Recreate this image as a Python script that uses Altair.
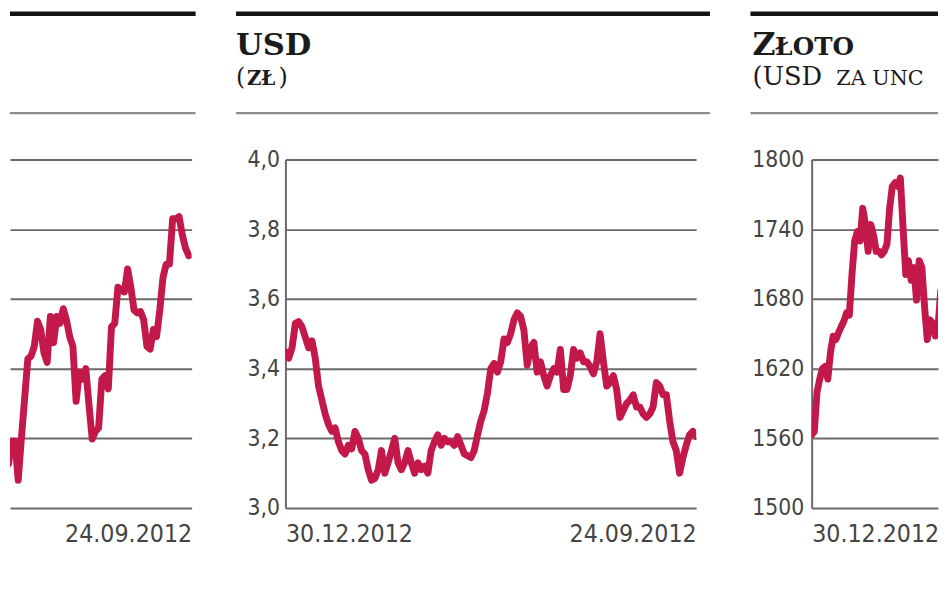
import altair as alt
import pandas as pd

# ---------------- data ----------------
# Left panel (cropped, only its right part is visible): y axis hidden
left_values = [4.035, 4.087, 4.063, 4.096, 4.096, 4.04, 4.10, 4.157, 4.214, 4.218,
               4.232, 4.268, 4.256, 4.223, 4.209, 4.275, 4.237, 4.275, 4.265, 4.286,
               4.27, 4.246, 4.232, 4.153, 4.195, 4.185, 4.20, 4.148, 4.099, 4.11,
               4.115, 4.185, 4.19, 4.171, 4.26, 4.265, 4.317, 4.312, 4.31, 4.343,
               4.317, 4.284, 4.28, 4.282, 4.27, 4.232, 4.228, 4.256, 4.246, 4.284,
               4.331, 4.35, 4.35, 4.415, 4.415, 4.418, 4.392, 4.373, 4.362]
left_ticks = [4.0, 4.1, 4.2, 4.3, 4.4, 4.5]
left_view = [2.45, 58.9]          # visible part of the time index

# Middle panel: USD (zł)
usd_values = [3.448, 3.43, 3.46, 3.53, 3.535, 3.52, 3.49, 3.46, 3.48, 3.43,
              3.35, 3.31, 3.27, 3.24, 3.22, 3.23, 3.19, 3.165, 3.155, 3.18,
              3.17, 3.22, 3.20, 3.165, 3.155, 3.11, 3.08, 3.085, 3.11, 3.165,
              3.10, 3.13, 3.165, 3.20, 3.13, 3.11, 3.13, 3.165, 3.13, 3.10,
              3.13, 3.11, 3.12, 3.10, 3.165, 3.19, 3.21, 3.18, 3.20, 3.19,
              3.19, 3.18, 3.205, 3.18, 3.155, 3.15, 3.145, 3.165, 3.21, 3.25,
              3.28, 3.33, 3.40, 3.415, 3.39, 3.42, 3.485, 3.475, 3.50, 3.54,
              3.56, 3.55, 3.51, 3.41, 3.46, 3.475, 3.39, 3.42, 3.38, 3.35,
              3.38, 3.40, 3.39, 3.455, 3.34, 3.34, 3.38, 3.455, 3.43, 3.445,
              3.42, 3.42, 3.405, 3.385, 3.42, 3.50, 3.42, 3.35, 3.36, 3.38,
              3.34, 3.26, 3.28, 3.30, 3.31, 3.325, 3.29, 3.29, 3.27, 3.26,
              3.27, 3.29, 3.36, 3.35, 3.325, 3.325, 3.25, 3.19, 3.165, 3.10,
              3.145, 3.18, 3.21, 3.22, 3.205]
usd_ticks = [3.0, 3.2, 3.4, 3.6, 3.8, 4.0]

# Right panel: Złoto (USD za uncję), only its left part is visible
gold_values = [1563, 1566, 1600, 1611, 1620, 1622, 1611, 1634, 1648, 1645,
               1651, 1656, 1661, 1668, 1666, 1701, 1730, 1738, 1730, 1758,
               1744, 1721, 1744, 1735, 1721, 1721, 1718, 1721, 1727, 1758,
               1777, 1780, 1777, 1784, 1741, 1701, 1713, 1696, 1707, 1679,
               1713, 1707, 1673, 1645, 1662, 1659, 1648, 1656, 1687, 1690, 1668]
gold_ticks = [1500, 1560, 1620, 1680, 1740, 1800]
gold_view = [0, 47.0]             # visible part of the time index

date_labels = ["30.12.2012", "24.09.2012"]

# ---------------- style ----------------
LINE_COLOR = "#C2184A"
GRID_COLOR = "#6a6a6a"
LABEL_COLOR = "#444444"
AXIS_FONT = "DejaVu Sans Condensed, Liberation Sans Narrow, sans-serif"
SERIF = "DejaVu Serif, Liberation Serif, serif"
PLOT_H = 353

one = alt.Data(values=[{}])


def decorations(x0, x1):
    bar = alt.Chart(one).mark_rect(color="#141414").encode(
        x=alt.value(x0), x2=alt.value(x1), y=alt.value(-150), y2=alt.value(-145.5))
    rule = alt.Chart(one).mark_rule(color="#8c8c8c", strokeWidth=2.5).encode(
        x=alt.value(x0), x2=alt.value(x1), y=alt.value(-47))
    return [bar, rule]


def text(t, x, y, size, weight="normal", limit=None):
    kw = dict(text=t, align="left", baseline="alphabetic", font=SERIF,
              fontSize=size, fontWeight=weight, color="#1b1b1b")
    if limit is not None:
        kw["limit"] = limit
        kw["ellipsis"] = " "
    return alt.Chart(one).mark_text(**kw).encode(x=alt.value(x), y=alt.value(y))


def y_axis(ticks, expr, show_labels=True, pad=6):
    return alt.Axis(values=ticks, labelExpr=expr, labels=show_labels, grid=True,
                    gridColor=GRID_COLOR, gridWidth=2, domain=show_labels,
                    domainColor=GRID_COLOR, domainWidth=2, ticks=False, tickSize=0,
                    labelPadding=pad, labelFont=AXIS_FONT, labelFontSize=23,
                    labelColor=LABEL_COLOR, title=None)


def x_axis(vals, expr):
    return alt.Axis(values=vals, labelExpr=expr, labelFlush=True, grid=False,
                    domain=False, ticks=False, tickSize=0, labelPadding=14,
                    labelFont=AXIS_FONT, labelFontSize=25, labelColor=LABEL_COLOR,
                    title=None)


def line_chart(values, xdomain, xvals, xexpr, ydomain, yticks, yexpr, show_y, ypad):
    df = pd.DataFrame({"i": list(range(len(values))), "v": values})
    return alt.Chart(df).mark_line(color=LINE_COLOR, strokeWidth=7, strokeJoin="round",
                                   strokeCap="round", clip=True).encode(
        x=alt.X("i:Q", scale=alt.Scale(domain=xdomain, nice=False, zero=False),
                axis=x_axis(xvals, xexpr)),
        y=alt.Y("v:Q", scale=alt.Scale(domain=ydomain, nice=False, zero=False),
                axis=y_axis(yticks, yexpr, show_y, ypad)),
    )


# Left panel
left_line = line_chart(left_values, left_view, [left_view[1]], f"'{date_labels[1]}'",
                       [left_ticks[0], left_ticks[-1]], left_ticks, "''", False, 6)
left = alt.layer(left_line, *decorations(0, 188)).properties(width=184, height=PLOT_H)

# Middle panel
n = len(usd_values)
usd_line = line_chart(usd_values, [0, n - 1], [0, n - 1],
                      f"datum.value == 0 ? '{date_labels[0]}' : '{date_labels[1]}'",
                      [usd_ticks[0], usd_ticks[-1]], usd_ticks,
                      "replace(format(datum.value, '.1f'), '.', ',')", True, 6)
mid = alt.layer(
    usd_line, *decorations(-50, 430),
    text("USD", -50, -106, 31, "bold"),
    text("(", -50, -75, 24),
    text("ZŁ", -39, -75, 20, "bold"),
    text(")", -7, -75, 24),
).properties(width=416, height=PLOT_H)

# Right panel
gold_line = line_chart(gold_values, gold_view, [0], f"'{date_labels[0]}'",
                       [gold_ticks[0], gold_ticks[-1]], gold_ticks,
                       "format(datum.value, 'd')", True, 8)
right = alt.layer(
    gold_line, *decorations(-62, 128),
    text("Z", -60, -106, 32, "bold"),
    text("ŁOTO", -37, -106, 25, "bold"),
    text("(USD", -60, -75, 26),
    text("ZA UNCJĘ)", 25, -75, 21, limit=102),
).properties(width=128, height=PLOT_H)

chart = alt.hconcat(left, mid, right, spacing=37).properties(
    padding=0, background="white"
).configure_view(stroke=None)

chart.save("out.html", embed_options={"renderer": "svg", "actions": False})
